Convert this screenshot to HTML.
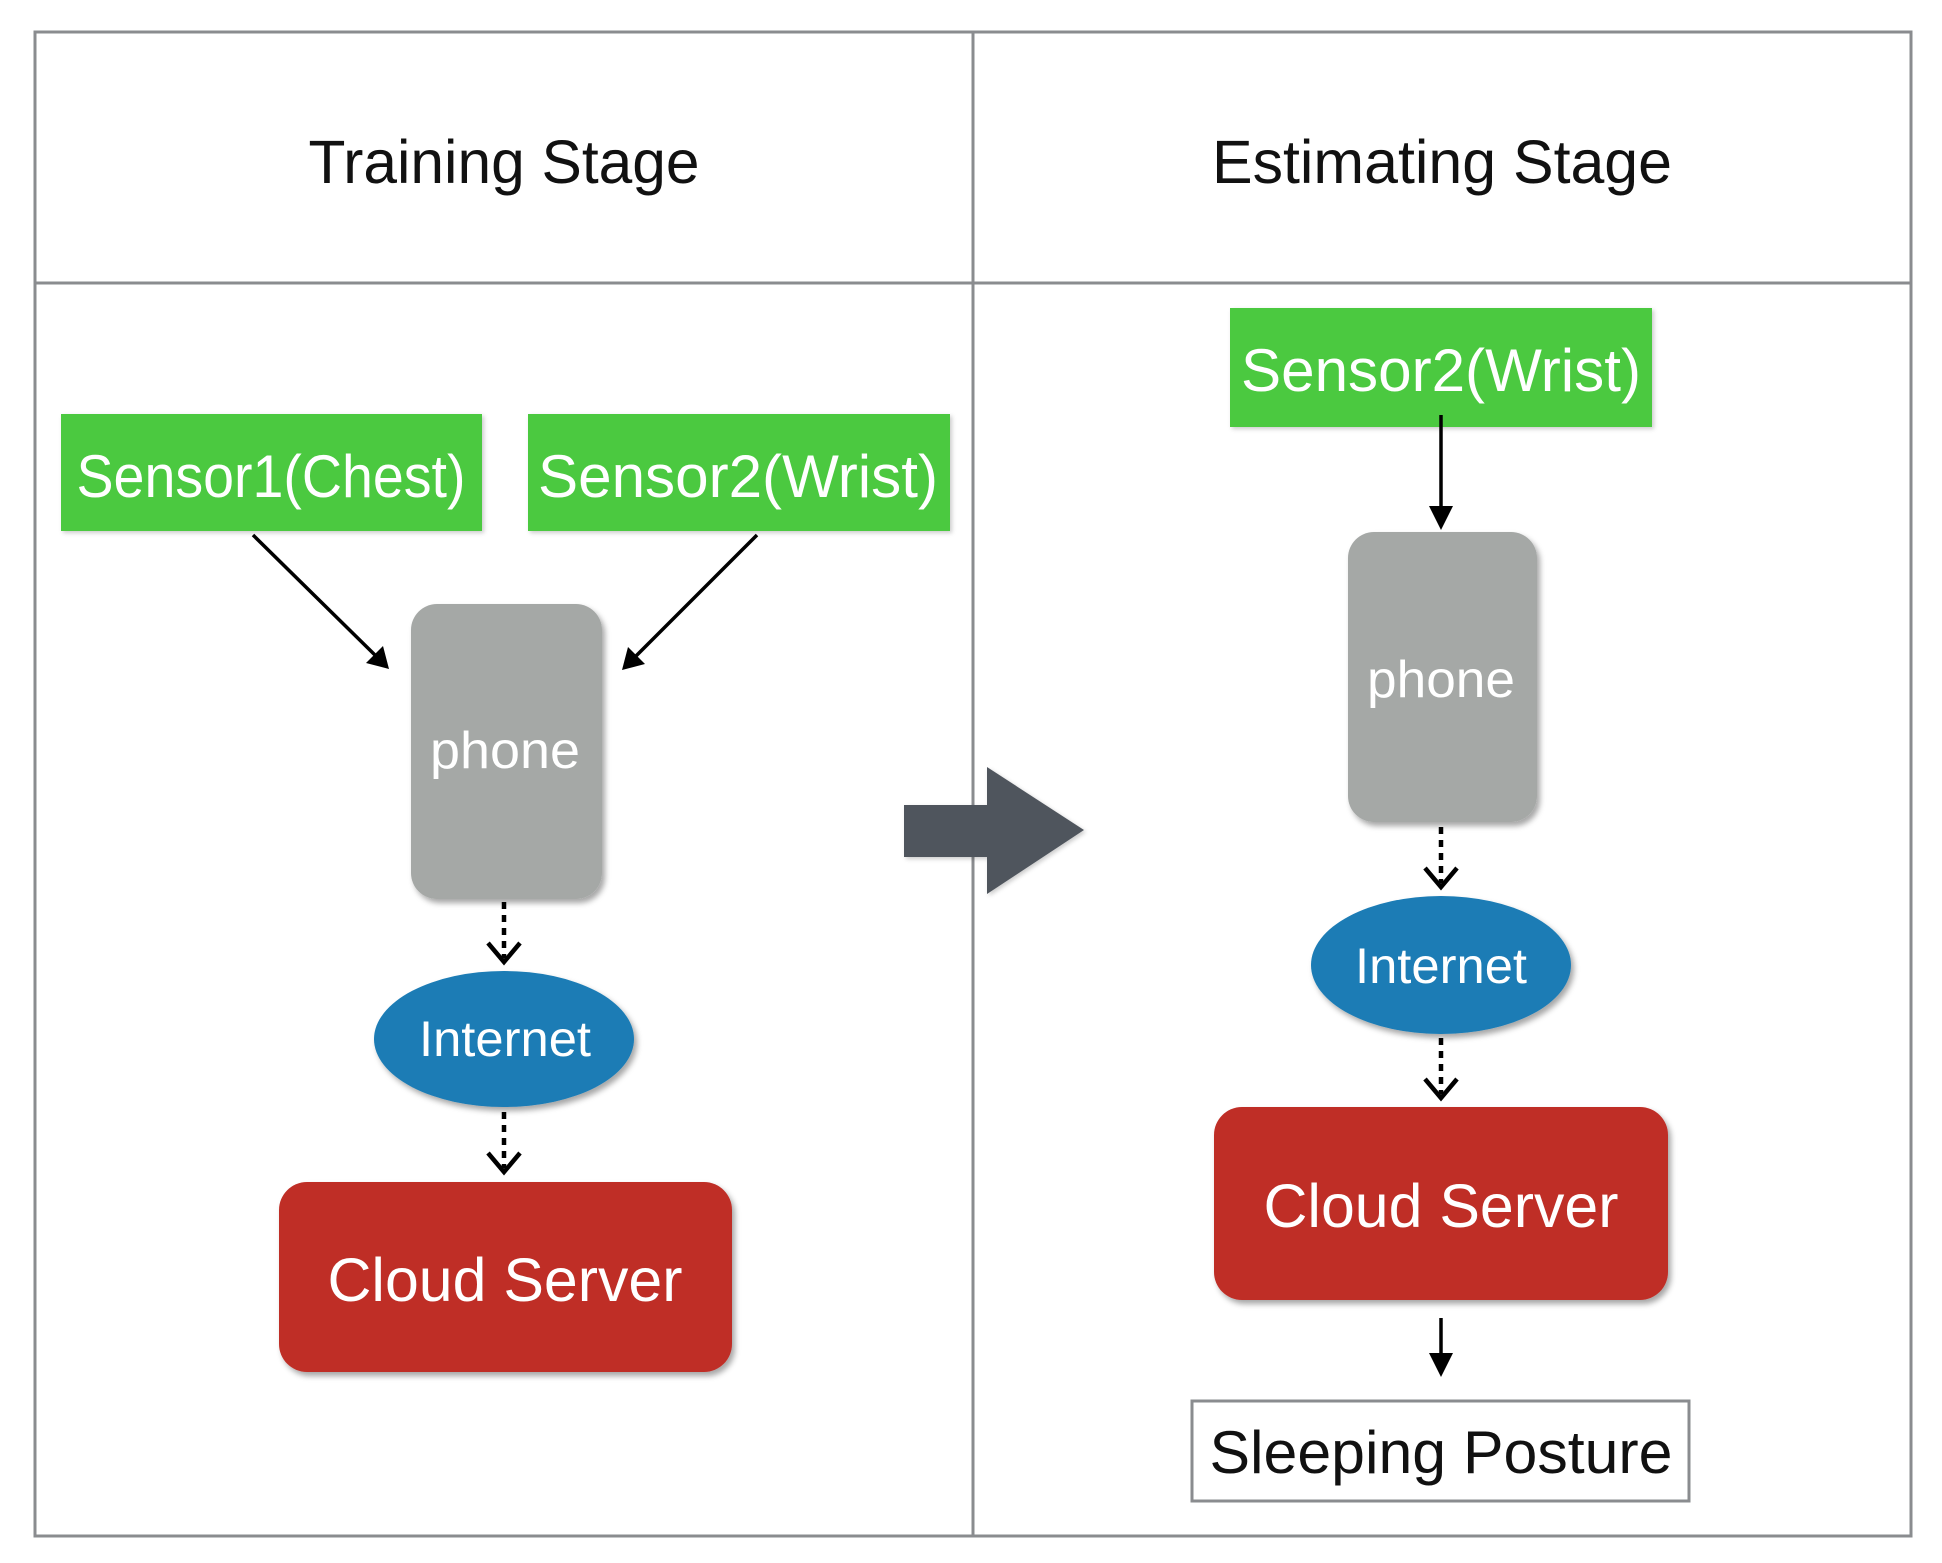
<!DOCTYPE html>
<html><head><meta charset="utf-8"><style>
html,body{margin:0;padding:0;background:#fff;}
svg{display:block;}
text{font-family:"Liberation Sans",sans-serif;}
</style></head><body>
<svg width="1942" height="1563" viewBox="0 0 1942 1563" xmlns="http://www.w3.org/2000/svg">
<defs>
<filter id="sh" x="-10%" y="-10%" width="130%" height="130%">
<feDropShadow dx="3" dy="4" stdDeviation="3" flood-color="#000" flood-opacity="0.35"/>
</filter>
<filter id="sh2" x="-10%" y="-10%" width="130%" height="130%">
<feDropShadow dx="2" dy="2" stdDeviation="2" flood-color="#000" flood-opacity="0.2"/>
</filter>
</defs>
<g fill="none" stroke="#8a8c8f" stroke-width="3">
<rect x="35" y="32" width="1876" height="1504"/>
<line x1="35" y1="283" x2="1911" y2="283"/>
<line x1="973" y1="32" x2="973" y2="1536"/>
</g>
<text x="504" y="183" font-size="61" text-anchor="middle" textLength="391" lengthAdjust="spacingAndGlyphs" fill="#111">Training Stage</text>
<text x="1442" y="183" font-size="61" text-anchor="middle" textLength="460" lengthAdjust="spacingAndGlyphs" fill="#111">Estimating Stage</text>

<!-- sensors -->
<g filter="url(#sh2)" fill="#4cc940">
<rect x="61" y="414" width="421" height="117"/>
<rect x="528" y="414" width="422" height="117"/>
<rect x="1230" y="308" width="422" height="119"/>
</g>
<g fill="#fff" font-size="60" text-anchor="middle">
<text x="271" y="497" textLength="389" lengthAdjust="spacingAndGlyphs">Sensor1(Chest)</text>
<text x="738" y="497" textLength="400" lengthAdjust="spacingAndGlyphs">Sensor2(Wrist)</text>
<text x="1441" y="391" textLength="400" lengthAdjust="spacingAndGlyphs">Sensor2(Wrist)</text>
</g>

<!-- phones -->
<g filter="url(#sh)" fill="#a5a8a6">
<rect x="411" y="604" width="191" height="295" rx="26"/>
<rect x="1348" y="532" width="189" height="290" rx="26"/>
</g>
<g fill="#fff" font-size="52" text-anchor="middle">
<text x="505" y="768" textLength="150" lengthAdjust="spacingAndGlyphs">phone</text>
<text x="1441" y="697" textLength="148" lengthAdjust="spacingAndGlyphs">phone</text>
</g>

<!-- internet -->
<g filter="url(#sh)" fill="#1a7bb5">
<ellipse cx="504" cy="1039" rx="130" ry="68"/>
<ellipse cx="1441" cy="965" rx="130" ry="69"/>
</g>
<g fill="#fff" font-size="50" text-anchor="middle">
<text x="505" y="1056" textLength="172" lengthAdjust="spacingAndGlyphs">Internet</text>
<text x="1441" y="983" textLength="172" lengthAdjust="spacingAndGlyphs">Internet</text>
</g>

<!-- cloud -->
<g filter="url(#sh)" fill="#bf2f27">
<rect x="279" y="1182" width="453" height="190" rx="28"/>
<rect x="1214" y="1107" width="454" height="193" rx="28"/>
</g>
<g fill="#fff" font-size="61" text-anchor="middle">
<text x="505" y="1301" textLength="355" lengthAdjust="spacingAndGlyphs">Cloud Server</text>
<text x="1441" y="1227" textLength="355" lengthAdjust="spacingAndGlyphs">Cloud Server</text>
</g>

<!-- sleeping posture -->
<rect x="1192" y="1401" width="497" height="100" fill="#fff" stroke="#8a8c8f" stroke-width="3"/>
<text x="1441" y="1473" font-size="60" text-anchor="middle" textLength="463" lengthAdjust="spacingAndGlyphs" fill="#111">Sleeping Posture</text>

<!-- big arrow -->
<polygon points="904,805 987,805 987,767 1084,830 987,894 987,857 904,857" fill="#4f555d" filter="url(#sh2)"/>

<!-- solid arrows -->
<g stroke="#000" stroke-width="3.5" fill="none">
<line x1="253" y1="535" x2="378" y2="658"/>
<line x1="757" y1="535" x2="633" y2="659"/>
<line x1="1441" y1="415" x2="1441" y2="510"/>
<line x1="1441" y1="1318" x2="1441" y2="1358"/>
</g>
<g fill="#000">
<polygon points="389,669 366,663 383,646"/>
<polygon points="622,670 628,647 645,664"/>
<polygon points="1441,530 1429,506 1453,506"/>
<polygon points="1441,1377 1429,1353 1453,1353"/>
</g>

<!-- dotted arrows -->
<g stroke="#000" stroke-width="4.5" fill="none">
<line x1="504" y1="902" x2="504" y2="958" stroke-dasharray="7,6"/>
<polyline points="488,943 504,962 520,943"/>
<line x1="504" y1="1112" x2="504" y2="1168" stroke-dasharray="7,6"/>
<polyline points="488,1153 504,1172 520,1153"/>
<line x1="1441" y1="827" x2="1441" y2="883" stroke-dasharray="7,6"/>
<polyline points="1425,868 1441,887 1457,868"/>
<line x1="1441" y1="1038" x2="1441" y2="1094" stroke-dasharray="7,6"/>
<polyline points="1425,1079 1441,1098 1457,1079"/>
</g>
</svg>
</body></html>
